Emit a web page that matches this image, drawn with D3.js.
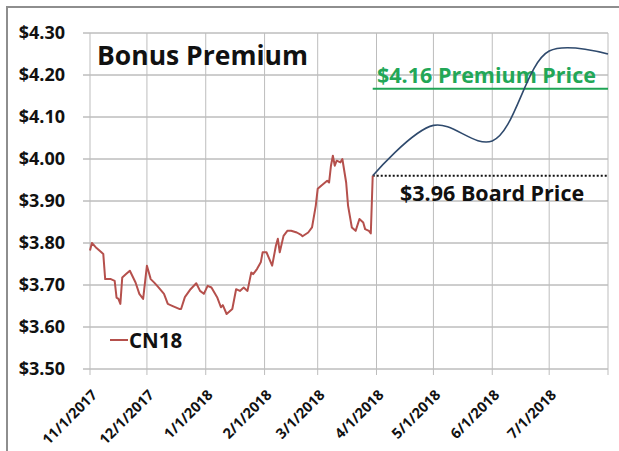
<!DOCTYPE html>
<html>
<head>
<meta charset="utf-8">
<script src="https://cdn.jsdelivr.net/npm/d3@7"></script>
<style>
  body { margin: 0; background: #fff; }
  text { font-family: "Open Sans", "DejaVu Sans", sans-serif; font-weight: bold; }
</style>
</head>
<body>
<div id="chart"></div>
<script>
// CN18 futures, daily closes
const cn18Dates = [
  '2017-11-01','2017-11-02','2017-11-04','2017-11-07','2017-11-08','2017-11-09','2017-11-12','2017-11-14',
  '2017-11-15','2017-11-16','2017-11-17','2017-11-18','2017-11-20','2017-11-22','2017-11-25','2017-11-27',
  '2017-11-29','2017-12-01','2017-12-03','2017-12-05','2017-12-07','2017-12-10','2017-12-12','2017-12-14',
  '2017-12-18','2017-12-19','2017-12-21','2017-12-24','2017-12-27','2017-12-29','2017-12-31','2018-01-02',
  '2018-01-04','2018-01-07','2018-01-09','2018-01-10','2018-01-12','2018-01-15','2018-01-17','2018-01-19',
  '2018-01-21','2018-01-23','2018-01-25','2018-01-26','2018-01-28','2018-01-30','2018-01-31','2018-02-02',
  '2018-02-05','2018-02-07','2018-02-08','2018-02-09','2018-02-11','2018-02-13','2018-02-15','2018-02-18',
  '2018-02-20','2018-02-21','2018-02-24','2018-02-26','2018-02-28','2018-03-01','2018-03-03','2018-03-06',
  '2018-03-07','2018-03-08','2018-03-09','2018-03-10','2018-03-11','2018-03-13','2018-03-14','2018-03-16',
  '2018-03-17','2018-03-19','2018-03-21','2018-03-23','2018-03-25','2018-03-26','2018-03-28','2018-03-29',
  '2018-03-30'
];
const cn18Values = [
  3.782, 3.800, 3.790, 3.778, 3.774, 3.714, 3.714, 3.710,
  3.670, 3.667, 3.655, 3.718, 3.726, 3.734, 3.706, 3.679,
  3.667, 3.746, 3.714, 3.705, 3.695, 3.679, 3.655, 3.651,
  3.643, 3.643, 3.671, 3.690, 3.704, 3.686, 3.679, 3.698,
  3.694, 3.671, 3.647, 3.652, 3.631, 3.643, 3.690, 3.686,
  3.694, 3.686, 3.730, 3.726, 3.738, 3.754, 3.778, 3.778,
  3.746, 3.794, 3.810, 3.778, 3.817, 3.829, 3.829, 3.825,
  3.820, 3.816, 3.825, 3.837, 3.889, 3.929, 3.937, 3.948,
  3.944, 3.984, 4.008, 3.984, 3.996, 3.992, 4.000, 3.944,
  3.889, 3.837, 3.829, 3.857, 3.849, 3.833, 3.829, 3.823,
  3.960
];

// projected path (smoothed)
const projDates = ['2018-03-30', '2018-05-01', '2018-06-01', '2018-07-01', '2018-08-01'];
const projValues = [3.96, 4.08, 4.043, 4.257, 4.25];

const boardPrice = 3.96;
const premiumLevel = 4.167;
const boardLabel = '$3.96 Board Price';
const premiumLabel = '$4.16 Premium Price';

const yTicks = [3.5, 3.6, 3.7, 3.8, 3.9, 4.0, 4.1, 4.2, 4.3];
const xTicks = ['2017-11-01','2017-12-01','2018-01-01','2018-02-01','2018-03-01',
                '2018-04-01','2018-05-01','2018-06-01','2018-07-01','2018-08-01'];
const xTickLabels = ['11/1/2017','12/1/2017','1/1/2018','2/1/2018','3/1/2018',
                     '4/1/2018','5/1/2018','6/1/2018','7/1/2018',''];

const parse = d3.timeParse('%Y-%m-%d');

const width = 619, height = 451;
const svg = d3.select('#chart').append('svg')
    .attr('width', width)
    .attr('height', height);

// outer chart border
svg.append('rect')
    .attr('x', 7).attr('y', 7)
    .attr('width', 640).attr('height', 480)
    .attr('fill', 'none')
    .attr('stroke', '#8e8e8e')
    .attr('stroke-width', 2);

const x = d3.scaleTime()
    .domain([parse('2017-11-01'), parse('2018-08-01')])
    .range([90, 608]);

const y = d3.scaleLinear()
    .domain([3.5, 4.3])
    .range([369, 33]);

// grid
svg.append('g')
    .selectAll('line')
    .data(yTicks)
    .enter()
    .append('line')
    .attr('x1', 83).attr('x2', 608)
    .attr('y1', d => y(d)).attr('y2', d => y(d))
    .attr('stroke', '#9c9c9c')
    .attr('stroke-width', 1);

svg.append('g')
    .selectAll('line')
    .data(xTicks)
    .enter()
    .append('line')
    .attr('x1', d => x(parse(d))).attr('x2', d => x(parse(d)))
    .attr('y1', y(4.3)).attr('y2', y(3.5) + 6)
    .attr('stroke', '#bdbdbd')
    .attr('stroke-width', 1);

// y labels
svg.append('g')
    .selectAll('text')
    .data(yTicks)
    .enter()
    .append('text')
    .attr('x', 65)
    .attr('y', d => y(d))
    .attr('dy', '0.35em')
    .attr('text-anchor', 'end')
    .attr('font-size', 18)
    .attr('fill', '#111')
    .text(d => '$' + d3.format('.2f')(d));

// x labels
svg.append('g')
    .selectAll('text')
    .data(xTicks)
    .enter()
    .append('text')
    .attr('transform', d => `translate(${x(parse(d)) + 8},${y(3.5) + 27}) rotate(-45)`)
    .attr('text-anchor', 'end')
    .attr('font-size', 14.5)
    .attr('fill', '#111')
    .text((d, i) => xTickLabels[i]);

// title
svg.append('text')
    .attr('x', 97).attr('y', 65)
    .attr('font-size', 26.5)
    .attr('fill', '#111')
    .text('Bonus Premium');

// premium line + label
svg.append('line')
    .attr('x1', x(parse('2018-03-30'))).attr('x2', 608)
    .attr('y1', y(premiumLevel)).attr('y2', y(premiumLevel))
    .attr('stroke', '#1fa455')
    .attr('stroke-width', 2);

svg.append('text')
    .attr('x', 377).attr('y', 83)
    .attr('font-size', 21.5)
    .attr('fill', '#22a757')
    .text(premiumLabel);

// board price dotted line + label
svg.append('line')
    .attr('x1', x(parse('2018-03-30'))).attr('x2', 608)
    .attr('y1', y(boardPrice)).attr('y2', y(boardPrice))
    .attr('stroke', '#111')
    .attr('stroke-width', 2)
    .attr('stroke-dasharray', '2,2');

svg.append('text')
    .attr('x', 400).attr('y', 201)
    .attr('font-size', 21.5)
    .attr('fill', '#111')
    .text(boardLabel);

// series
const cn18 = cn18Dates.map((d, i) => ({date: parse(d), value: cn18Values[i]}));
const proj = projDates.map((d, i) => ({date: parse(d), value: projValues[i]}));

svg.append('path')
    .datum(proj)
    .attr('fill', 'none')
    .attr('stroke', '#2f4a6d')
    .attr('stroke-width', 1.6)
    .attr('d', d3.line()
        .x(d => x(d.date))
        .y(d => y(d.value))
        .curve(d3.curveCatmullRom.alpha(0.5)));

svg.append('path')
    .datum(cn18)
    .attr('fill', 'none')
    .attr('stroke', '#b5504c')
    .attr('stroke-width', 2)
    .attr('stroke-linejoin', 'round')
    .attr('d', d3.line()
        .x(d => x(d.date))
        .y(d => y(d.value)));

// legend
svg.append('line')
    .attr('x1', 110).attr('x2', 128)
    .attr('y1', 340).attr('y2', 340)
    .attr('stroke', '#b5504c')
    .attr('stroke-width', 2);

svg.append('text')
    .attr('x', 129).attr('y', 348)
    .attr('font-size', 20.5)
    .attr('fill', '#111')
    .text('CN18');
</script>
</body>
</html>
